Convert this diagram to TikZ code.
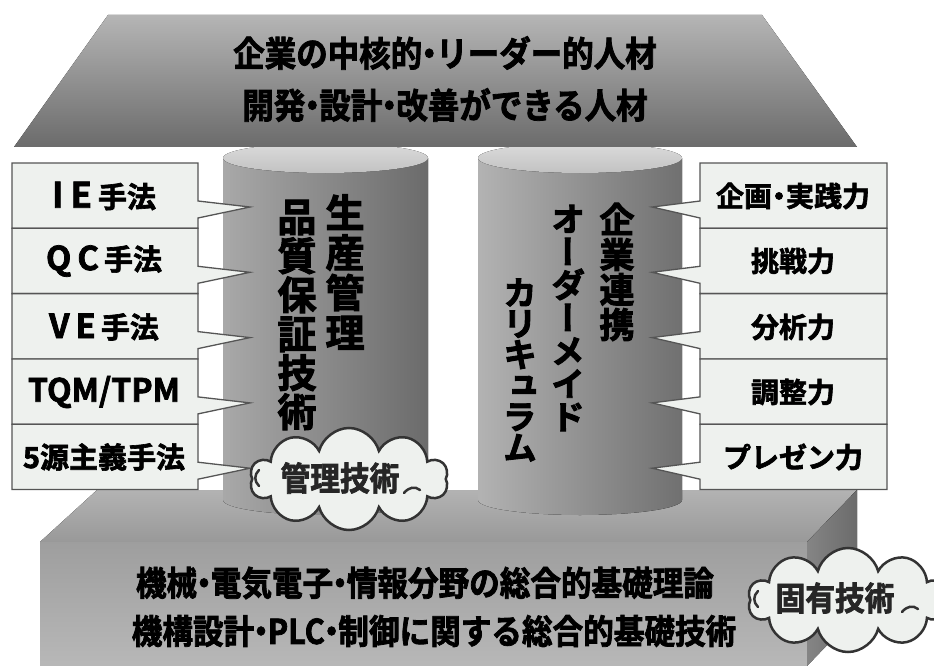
\documentclass[tikz,border=0pt]{standalone}
\usepackage{fontspec}
\newfontfamily\jp{Noto Sans CJK JP Bold}[FakeBold=2.2]
\newfontfamily\jpc{Noto Sans CJK JP Bold}[FakeBold=2.2,FakeStretch=0.9]
\newfontfamily\jpv{Noto Sans CJK JP Bold}[FakeBold=2.6,RawFeature=+vert]
\usetikzlibrary{shapes.symbols}
\definecolor{boxfill}{HTML}{EEF1EE}
\definecolor{boxline}{HTML}{555555}
\definecolor{cloudline}{HTML}{333333}
\newcommand{\nk}{\kern-0.25em・\kern-0.25em}
\newcommand{\fs}[1]{\fontsize{#1}{#1}\selectfont}
\tikzset{
  callout/.style={fill=boxfill,draw=boxline,line width=1.3pt,line join=miter},
  lbl/.style={font=\jp\fs{29},inner sep=0pt,text=black},
  rlbl/.style={font=\jp\fs{28},inner sep=0pt,text=black},
  bigtxt/.style={font=\jpc\fs{35},inner sep=0pt,text=black},
  vtxt/.style={align=center,inner sep=0pt,text=black},
  cloudbox/.style={cloud,cloud puffs=10,aspect=1.9,fill=boxfill,draw=cloudline,line width=2.5pt,inner sep=0pt},
  cloudtxt/.style={font=\jpc\fs{33},inner sep=0pt,text=black!85},
  swirl/.style={draw=cloudline,line width=2.5pt,line cap=round},
}
\begin{document}
\begin{tikzpicture}[x=1pt,y=-1pt]
\useasboundingbox (0,0) rectangle (934,666);
% ---------- base ----------
\fill[top color=gray!60!white,bottom color=gray!80!white] (40,542) -- (97,490) -- (857,490) -- (807,542) -- cycle;
\fill[top color=black!38,middle color=black!44,bottom color=black!28] (40,542) rectangle (807,666);
\fill[left color=black!48,right color=black!58] (807,542) -- (857,490) -- (857,614) -- (807,666) -- cycle;
% ---------- pillars ----------
\fill[left color=black!34,right color=black!58] (223,158) -- (223,500) arc[start angle=180,end angle=0,x radius=102.5,y radius=15] -- (428,158) -- cycle;
\fill[top color=black!14,bottom color=black!24] (325.5,158) ellipse[x radius=102.5,y radius=15];
\fill[left color=black!30,right color=black!56] (478,158) -- (478,500) arc[start angle=180,end angle=0,x radius=102,y radius=15] -- (682,158) -- cycle;
\fill[top color=black!14,bottom color=black!24] (580,158) ellipse[x radius=102,y radius=15];
% ---------- roof ----------
\fill[top color=black!29,bottom color=black!58] (108,15) -- (762,15) -- (857,147) -- (14,147) -- cycle;
\node[bigtxt] (roof1) at (445,53) {企業の中核的\nk リーダー的人材};
\node[bigtxt] (roof2) at (445,105) {開発\nk 設計\nk 改善ができる人材};
% ---------- callouts ----------
\foreach \i in {0,...,4} {
  \pgfmathsetmacro\t{163+65.3*\i}
  \draw[callout] (12,\t) -- (198,\t) -- (198,{\t+38}) -- (250,{\t+44}) -- (198,{\t+55}) -- (198,{\t+65.3}) -- (12,{\t+65.3}) -- cycle;
  \draw[callout] (887,\t) -- (700,\t) -- (700,{\t+38}) -- (652,{\t+44}) -- (700,{\t+55}) -- (700,{\t+65.3}) -- (887,{\t+65.3}) -- cycle;
}
\node[lbl] (l1) at (104,196) {{\fs{35}I\hspace{7pt}E}\hspace{6pt}手法};
\node[lbl] (l2) at (104,261) {{\fs{33}Q\hspace{6pt}C}\hspace{5pt}手法};
\node[lbl] (l3) at (104,327) {{\fs{33}V\hspace{6pt}E}\hspace{5pt}手法};
\node[lbl,font=\jp\fs{32}] (l4) at (104,392) {TQM/TPM};
\node[lbl] (l5) at (104,457) {5源主義手法};
\node[rlbl] (r1) at (793,196) {企画\nk 実践力};
\node[rlbl] (r2) at (793,261) {挑戦力};
\node[rlbl] (r3) at (793,327) {分析力};
\node[rlbl] (r4) at (793,392) {調整力};
\node[rlbl] (r5) at (793,457) {プレゼン力};
% ---------- pillar texts (vertical) ----------
\node[vtxt,font=\jpv\fontsize{39}{40}\selectfont] (p1a) at (345,272) {生\\産\\管\\理};
\node[vtxt,font=\jpv\fontsize{39}{39}\selectfont] (p1b) at (297,315) {品\\質\\保\\証\\技\\術};
\node[vtxt,font=\jpv\fontsize{35}{35}\selectfont] (p2a) at (617,272) {企\\業\\連\\携};
\node[vtxt,font=\jpv\fontsize{34}{33}\selectfont] (p2b) at (568,318) {オ\\ー\\ダ\\ー\\メ\\イ\\ド};
\node[vtxt,font=\jpv\fontsize{34}{31}\selectfont] (p2c) at (520,370) {カ\\リ\\キ\\ュ\\ラ\\ム};
% ---------- base texts ----------
\node[bigtxt,font=\jpc\fs{34}] (b1) at (425,583) {機械\nk 電気電子\nk 情報分野の総合的基礎理論};
\node[bigtxt,font=\jpc\fs{34}] (b2) at (434,631) {機構設計\nk PLC\nk 制御に関する総合的基礎技術};
% ---------- clouds ----------
\node[cloudbox,minimum width=198pt,minimum height=102pt] (c1) at (349,479) {};
\node[cloudtxt] (c1t) at (340,478) {管理技術};
\draw[swirl] (259,470) .. controls (254,475) and (254,481) .. (259,486);
\draw[swirl] (404,493) .. controls (409,487) and (415,486) .. (420,490);
\node[cloudbox,minimum width=200pt,minimum height=104pt] (c2) at (848,600) {};
\node[cloudtxt] (c2t) at (835,598) {固有技術};
\draw[swirl] (758,591) .. controls (753,596) and (753,602) .. (758,607);
\draw[swirl] (902,612) .. controls (907,606) and (913,605) .. (918,609);
\end{tikzpicture}
\end{document}
